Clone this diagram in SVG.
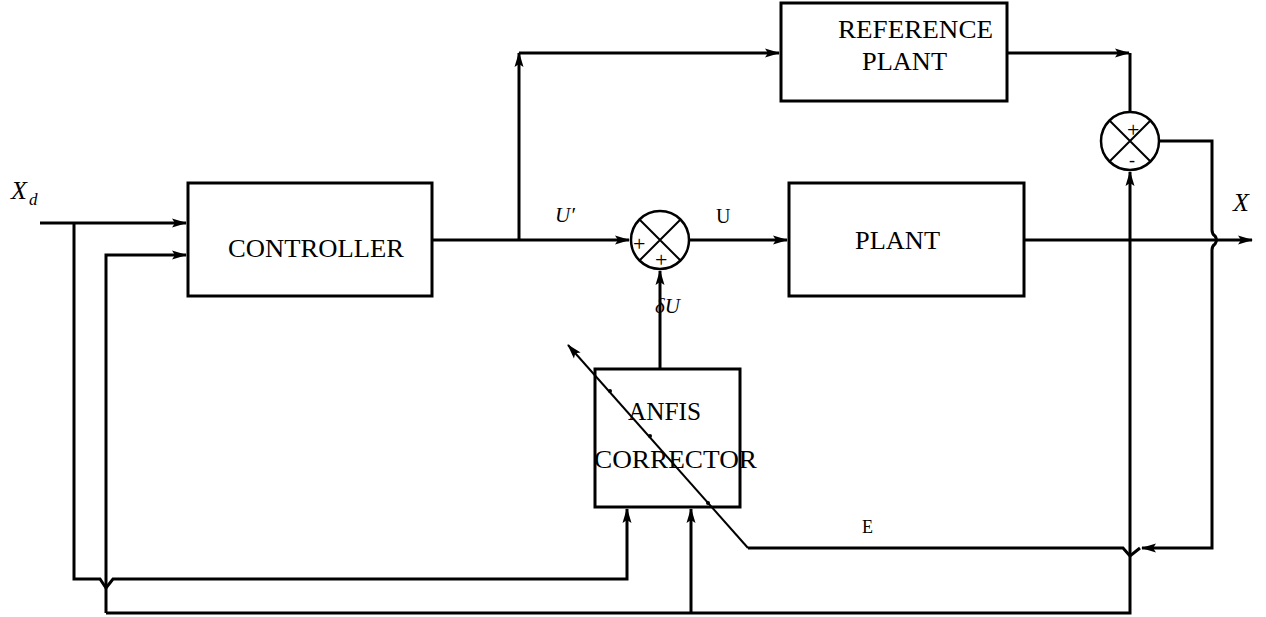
<svg xmlns="http://www.w3.org/2000/svg" width="1266" height="617" viewBox="0 0 1266 617">
<style>
.box{fill:none;stroke:#000;stroke-width:3}
.ln{fill:none;stroke:#000;stroke-width:3;stroke-linejoin:miter}
.thin{fill:none;stroke:#000;stroke-width:2}
.t{font-family:"Liberation Serif",serif;font-size:25px;fill:#000}
.i{font-family:"Liberation Serif",serif;font-style:italic;fill:#000}
.s{font-family:"Liberation Serif",serif;fill:#000}
</style>
<defs>
<marker id="ar" viewBox="0 0 15 10" refX="14" refY="5" markerWidth="15" markerHeight="10" markerUnits="userSpaceOnUse" orient="auto">
<path d="M0,0.5 L15,5 L0,9.5 L3,5 z" fill="#000"/>
</marker>
</defs>
<rect width="1266" height="617" fill="#fff"/>
<g id="controller">
<rect class="box" x="188" y="183" width="244" height="113"/>
<text class="t" x="228" y="257" textLength="176" lengthAdjust="spacingAndGlyphs">CONTROLLER</text>
</g>
<g id="reference-plant">
<rect class="box" x="781" y="3" width="226" height="98"/>
<text class="t" x="838" y="38" textLength="155" lengthAdjust="spacingAndGlyphs">REFERENCE</text>
<text class="t" x="862" y="70" textLength="85" lengthAdjust="spacingAndGlyphs">PLANT</text>
</g>
<g id="plant">
<rect class="box" x="789" y="183" width="235" height="113"/>
<text class="t" x="855" y="249" textLength="85" lengthAdjust="spacingAndGlyphs">PLANT</text>
</g>
<g id="anfis">
<rect class="box" x="595" y="369" width="145" height="138"/>
<text class="t" x="628" y="420" textLength="73" lengthAdjust="spacingAndGlyphs">ANFIS</text>
<text class="t" x="594" y="468" textLength="163" lengthAdjust="spacingAndGlyphs">CORRECTOR</text>
</g>
<g id="sum1">
<circle cx="660" cy="240" r="29" fill="none" stroke="#000" stroke-width="2.5"/>
<path class="thin" d="M639.5,219.5 L680.5,260.5 M680.5,219.5 L639.5,260.5"/>
<text class="s" x="633" y="251" style="font-size:22px">+</text>
<text class="s" x="655" y="267" style="font-size:22px">+</text>
</g>
<g id="sum2">
<circle cx="1130" cy="141" r="29" fill="none" stroke="#000" stroke-width="2.5"/>
<path class="thin" d="M1109.5,120.5 L1150.5,161.5 M1150.5,120.5 L1109.5,161.5"/>
<text class="s" x="1127" y="137" style="font-size:22px">+</text>
<text class="s" x="1129" y="166" style="font-size:18px">-</text>
</g>
<g id="connectors">
<path class="ln" d="M40,223 H186" marker-end="url(#ar)"/>
<path class="ln" d="M74,223 V579 H100 L106,588 L113,579 H627 V509" marker-end="url(#ar)"/>
<path class="ln" d="M106,613 V255 H186" marker-end="url(#ar)"/>
<path class="ln" d="M106,613 H1130 V172" marker-end="url(#ar)"/>
<path class="ln" d="M691,613 V509" marker-end="url(#ar)"/>
<path class="ln" d="M432,240 H629" marker-end="url(#ar)"/>
<path class="ln" d="M519,240 V53" marker-end="url(#ar)"/>
<path class="ln" d="M519,53 H779" marker-end="url(#ar)"/>
<path class="ln" d="M690,240 H787" marker-end="url(#ar)"/>
<path class="ln" d="M660,369 V271" marker-end="url(#ar)"/>
<path class="ln" d="M1007,53 H1129" marker-end="url(#ar)"/>
<path class="ln" d="M1130,53 V112"/>
<path class="ln" d="M1159,141 H1212 V230 Q1212,234 1215,236 Q1218,240 1215,244 Q1212,246 1212,250 V548 H1142" marker-end="url(#ar)"/>
<path class="ln" d="M1140,548 L1130,556 L1123,548 H748"/>
<path class="thin" d="M748,548 L568,345" marker-end="url(#ar)"/>
<circle cx="610" cy="391" r="2" fill="#000"/>
<circle cx="650" cy="436" r="2" fill="#000"/>
<circle cx="708" cy="503" r="2" fill="#000"/>
<path class="ln" d="M1024,240 H1252" marker-end="url(#ar)"/>
</g>
<g id="labels">
<text class="i" x="11" y="199" style="font-size:26px">X</text>
<text class="i" x="29" y="205" style="font-size:17px">d</text>
<text class="i" x="555" y="222" style="font-size:21px">U′</text>
<text class="s" x="716" y="223" style="font-size:20px">U</text>
<text class="i" x="655" y="313" style="font-size:21px">δU</text>
<text class="i" x="1233" y="211" style="font-size:26px">X</text>
<text class="s" x="862" y="533" style="font-size:18px">E</text>
</g>
</svg>
